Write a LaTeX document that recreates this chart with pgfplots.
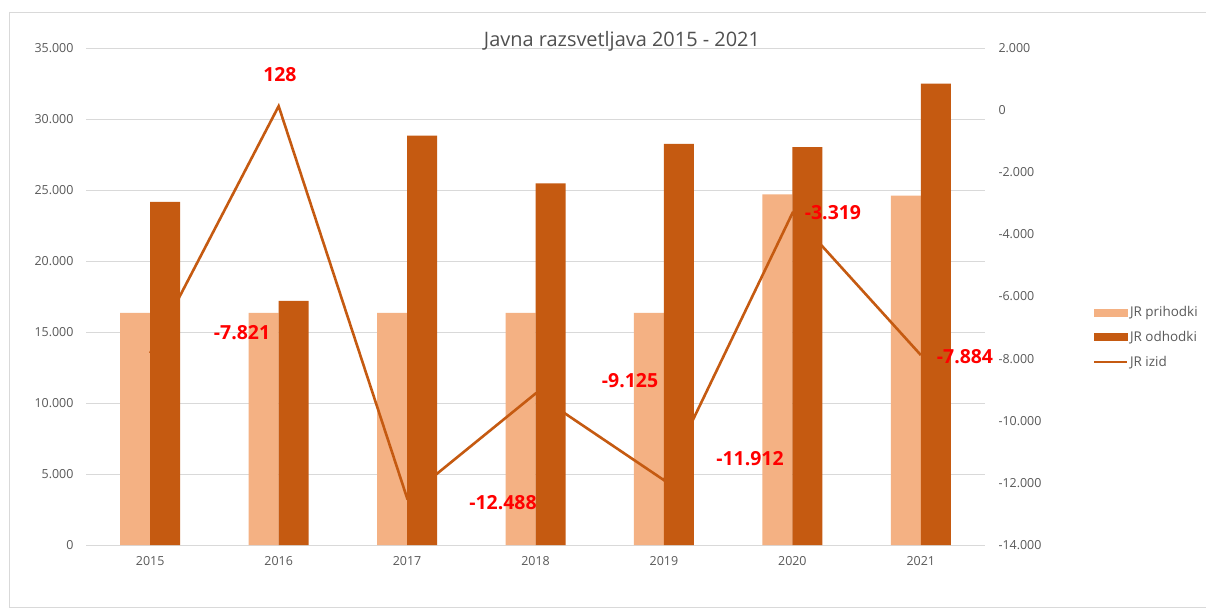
\documentclass[border=0pt]{standalone}
\usepackage{pgfplots}
\pgfplotsset{compat=1.18}
\usepackage{fontspec}
\setmainfont{Open Sans}
\definecolor{lightor}{HTML}{F4B183}
\definecolor{darkor}{HTML}{C55A11}
\definecolor{txt}{HTML}{595959}
\definecolor{gridc}{HTML}{D9D9D9}
\definecolor{lblred}{HTML}{FF0000}
\begin{document}
\begin{tikzpicture}[x=1bp,y=1bp]
\useasboundingbox (0,0) rectangle (1206,-612);
\fill[white] (0,0) rectangle (1206,-612);
\draw[gridc] (9,-12) -- (1210,-12);
\draw[gridc] (9,-12) -- (9,-607) -- (1210,-607);
\begin{axis}[
  at={(86bp,-545bp)}, anchor=south west,
  scale only axis, width=899bp, height=497bp,
  xmin=-0.5, xmax=6.5, ymin=0, ymax=35000,
  ytick distance=5000, scaled y ticks=false,
  xtick={0,...,6}, xticklabels={2015,2016,2017,2018,2019,2020,2021},
  ymajorgrids, grid style={gridc, line width=0.8bp},
  axis line style={draw=none}, major tick length=0pt,
  ticklabel style={font=\fontsize{12.5}{14}\selectfont, text=txt},
  /pgf/number format/fixed,
  /pgf/number format/1000 sep={.},
  /pgf/number format/assume math mode=true,
  yticklabel style={xshift=-9bp},
  xticklabel style={yshift=-8bp},
]
\addplot[ybar, bar width=30bp, bar shift=-15bp, fill=lightor, draw=none]
  coordinates {(0,16340)(1,16340)(2,16340)(3,16340)(4,16340)(5,24700)(6,24600)};
\addplot[ybar, bar width=30bp, bar shift=15bp, fill=darkor, draw=none]
  coordinates {(0,24161)(1,17200)(2,28830)(3,25465)(4,28252)(5,28019)(6,32484)};
\end{axis}
\begin{axis}[
  at={(86bp,-545bp)}, anchor=south west,
  scale only axis, width=899bp, height=497bp,
  xmin=-0.5, xmax=6.5, ymin=-14000, ymax=2000,
  ytick distance=2000, scaled y ticks=false,
  axis y line*=right, hide x axis, clip=false,
  axis line style={draw=none}, major tick length=0pt,
  ticklabel style={font=\fontsize{12.5}{14}\selectfont, text=txt},
  /pgf/number format/fixed,
  /pgf/number format/1000 sep={.},
  /pgf/number format/assume math mode=true,
  yticklabel style={xshift=10bp},
  legend style={at={(1.12,0.4185)}, anchor=west, draw=none, fill=none,
    font=\fontsize{13.5}{15}\selectfont, text=txt, row sep=9bp, inner sep=0pt,
    cells={anchor=west}},
  legend cell align=left,
]
\addlegendimage{legend image code/.code={\fill[lightor] (0bp,-3.5bp) rectangle (33bp,3.5bp);}}
\addlegendentry{JR prihodki}
\addlegendimage{legend image code/.code={\fill[darkor] (0bp,-3.5bp) rectangle (33bp,3.5bp);}}
\addlegendentry{JR odhodki}
\addlegendimage{legend image code/.code={\draw[darkor, line width=2bp] (0bp,0bp) -- (33bp,0bp);}}
\addlegendentry{JR izid}
\addplot[darkor, line width=2.6bp, mark=none, forget plot]
  coordinates {(0,-7821)(1,128)(2,-12488)(3,-9125)(4,-11912)(5,-3319)(6,-7884)};
\begin{scope}[every node/.style={font=\fontsize{19.5}{22}\selectfont\bfseries, text=lblred}]
\node at (axis cs:1.01,1131) {128};
\node at (axis cs:0.715,-7175) {-7.821};
\node at (axis cs:2.747,-12646) {-12.488};
\node at (axis cs:3.736,-8719) {-9.125};
\node at (axis cs:4.67,-11230) {-11.912};
\node at (axis cs:5.316,-3311) {-3.319};
\node at (axis cs:6.344,-7947) {-7.884};
\end{scope}
\end{axis}
\node[anchor=base, font=\fontsize{20}{22}\selectfont, text=txt!90!black] at (622,-47) {Javna razsvetljava 2015 - 2021};
\end{tikzpicture}
\end{document}
